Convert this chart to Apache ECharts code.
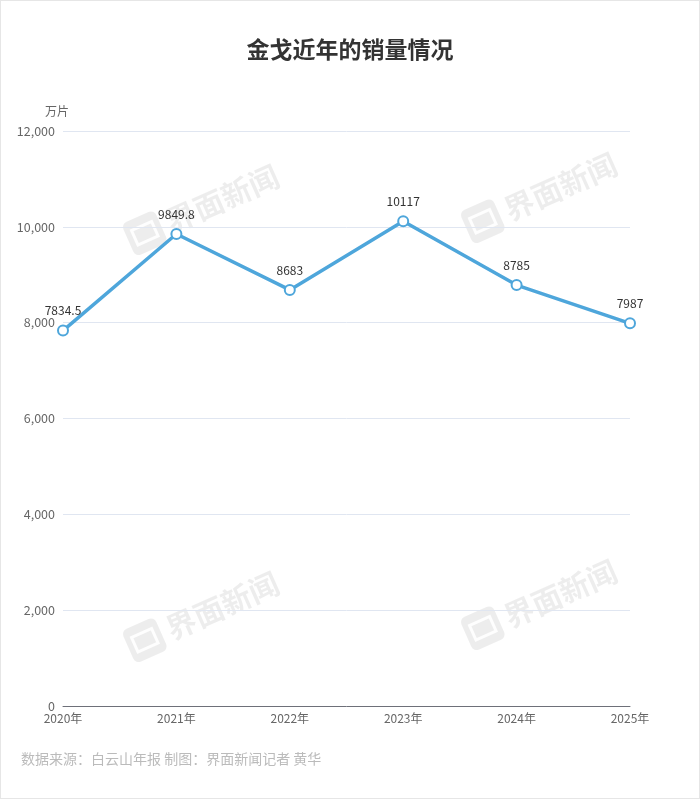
<!DOCTYPE html>
<html>
<head>
<meta charset="utf-8">
<script src="https://cdn.jsdelivr.net/npm/echarts@6/dist/echarts.min.js"></script>
<style>
html,body{margin:0;padding:0;background:#fff;}
#c{width:700px;height:799px;box-sizing:border-box;border:1px solid #e6e6e6;}
</style>
</head>
<body>
<div id="c"></div>
<script>
var categories = ['2020年','2021年','2022年','2023年','2024年','2025年'];
var salesValues = [7834.5, 9849.8, 8683, 10117, 8785, 7987];
var yTicks = [0, 2000, 4000, 6000, 8000, 10000, 12000];

var chart = echarts.init(document.getElementById('c'), null, {renderer:'canvas'});
var font = '"Noto Sans CJK SC", "Noto Sans", sans-serif';

function watermark(x, y) {
  return {
    type: 'group', x: x, y: y, rotation: Math.PI / 7.5, silent: true, z: 0,
    children: [
      {type:'rect', shape:{x:-85, y:-18, width:36, height:36, r:6}, style:{fill:'rgba(0,0,0,0.07)'}},
      {type:'rect', shape:{x:-78, y:-8, width:22, height:16}, style:{fill:'none', stroke:'rgba(255,255,255,0.9)', lineWidth:3}},
      {type:'text', x:-42, y:0, style:{text:'界面新闻', font:'bold 30px ' + font, fill:'rgba(0,0,0,0.07)', textVerticalAlign:'middle'}}
    ]
  };
}

chart.setOption({
  backgroundColor: '#fff',
  animation: false,
  title: {
    text: '金戈近年的销量情况',
    left: 'center', top: 32,
    textStyle: {fontSize: 23, fontWeight: 'bold', color: '#333', fontFamily: font}
  },
  graphic: [
    watermark(205, 205), watermark(543, 193), watermark(205, 612), watermark(543, 600),
    {type:'text', left: 20, top: 751, silent: true,
     style:{text:'数据来源：白云山年报 制图：界面新闻记者 黄华', font:'14px ' + font, fill:'#bbbbbb'}}
  ],
  grid: {left: 62, right: 69, top: 130, bottom: 92, containLabel: false},
  xAxis: {
    type: 'category', data: categories, boundaryGap: false,
    axisLine: {lineStyle: {color: '#6e7079', width: 1}},
    axisTick: {show: false},
    axisLabel: {color: '#666', fontSize: 12, fontFamily: font, margin: 6}
  },
  yAxis: {
    type: 'value', min: yTicks[0], max: yTicks[yTicks.length-1], interval: 2000,
    name: '万片', nameGap: 14,
    nameTextStyle: {color: '#666', fontSize: 12, fontFamily: font, align: 'right', padding:[0,-6,0,0]},
    axisLine: {show: false}, axisTick: {show: false},
    axisLabel: {color: '#666', fontSize: 12.5, fontFamily: font, margin: 8,
      formatter: function (v) { return v.toLocaleString('en-US'); }},
    splitLine: {lineStyle: {color: '#e0e6f1'}}
  },
  series: [{
    type: 'line', data: salesValues, z: 5,
    lineStyle: {color: '#4ea6db', width: 3.5},
    symbol: 'emptyCircle', symbolSize: 10,
    itemStyle: {color: '#4ea6db', borderWidth: 2},
    label: {show: true, position: 'top', color: '#333', fontSize: 12, fontFamily: font, distance: 8}
  }]
});
</script>
</body>
</html>
